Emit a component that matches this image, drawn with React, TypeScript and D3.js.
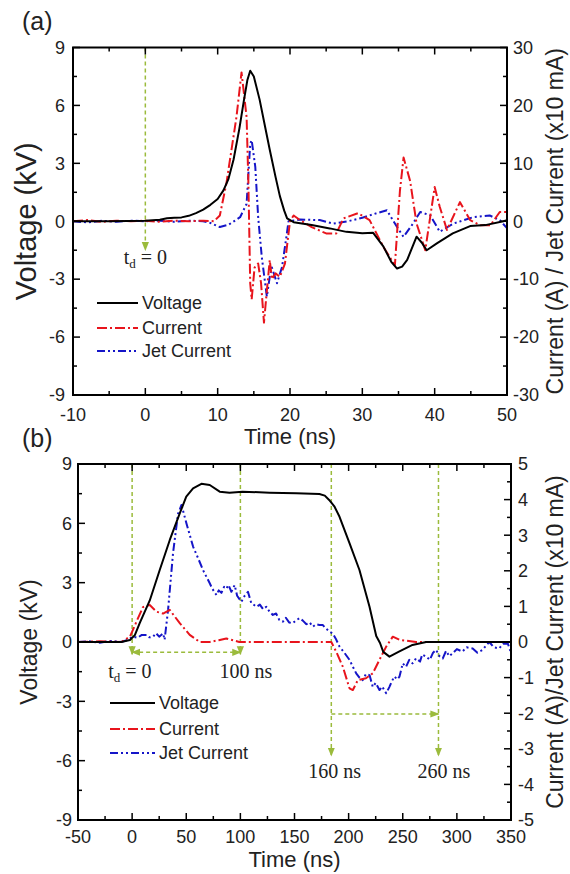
import React from "react";
import * as d3 from "d3";

// ---------- DATA ----------
// Panel (a): time (ns) vs value
const voltageA: [number, number][] = [[-10,0],[-5,0],[0,0.02],[2,0.08],[3,0.15],[4,0.18],[5,0.2],[6,0.28],[7,0.42],[8,0.6],[9,0.85],[10,1.15],[10.8,1.6],[11.5,2.2],[12.2,3.2],[13,4.8],[13.6,6.2],[14.1,7.3],[14.5,7.8],[15,7.5],[15.8,6.3],[16.5,5.0],[17.2,3.7],[18,2.3],[18.6,1.3],[19.2,0.55],[19.6,0.15],[20.5,-0.05],[23,-0.2],[25.5,-0.37],[27.8,-0.55],[30,-0.62],[31.5,-0.6],[32.9,-1.3],[34,-2.1],[34.8,-2.45],[35.5,-2.35],[36.2,-2.0],[37.5,-0.8],[38.2,-1.1],[38.9,-1.5],[40.3,-1.15],[42.5,-0.63],[44.9,-0.25],[47,-0.2],[49.5,0],[50,0.05]];
const currentA: [number, number][] = [[-10,0],[-8,0.2],[-6,-0.1],[-4,0.1],[-2,0],[0,0.1],[2,-0.1],[4,0.1],[6,0],[8,0.1],[9.5,0],[10.3,1],[11.2,6.5],[12.6,18],[13.3,25.7],[14,18],[14.25,6.5],[14.5,-10.7],[14.7,-13.5],[15.1,-8],[15.6,-7.3],[16,-10.7],[16.4,-17.5],[16.8,-12],[17.2,-6.7],[17.5,-10],[18,-9],[18.6,-9.6],[19.3,-7.3],[20,0],[20.5,1],[21.4,0.2],[23,-1],[25,-2.1],[26.4,-2.1],[27.4,0.5],[29.4,1.4],[31,0.2],[32.9,-4.4],[34.5,-7.6],[35.2,5.3],[35.7,11],[36.6,7],[37.5,-0.4],[38.7,-5],[40,5.9],[40.7,2.5],[41.7,-1.5],[43.5,3.3],[44.9,0.2],[46.3,-0.7],[47.7,-0.7],[49,1.6],[50,1.6]];
const jetA: [number, number][] = [[-10,0],[-8,-0.2],[-6,0.1],[-4,-0.1],[-2,0.1],[0,0],[2,0.1],[4,-0.1],[6,0.1],[8,0],[9,-0.3],[10.3,-1],[11.5,-0.6],[12.5,0.2],[13.1,0.7],[14,3],[14.5,13.4],[14.7,14],[15.2,9.4],[15.6,0.7],[16.1,-6.2],[16.8,-13],[17.2,-9.6],[17.5,-8],[18.2,-10.7],[18.9,-7.9],[19.5,-2.7],[19.8,0],[21.4,0.3],[24.1,0.2],[26,-0.4],[28,0],[30,0.6],[32,1.4],[33.4,1.9],[34.8,-1],[35.7,-2.7],[37,-0.4],[38,1.6],[39.4,1],[40.7,-1.8],[42.6,-0.4],[45.3,0.7],[47.6,1],[49,0.2],[50,-1.2]];

// Panel (b)
const voltageB: [number, number][] = [[-50,0],[-30,0],[-10,0],[-2,0.1],[2.5,0.35],[7,0.95],[16.3,2.1],[25.5,3.64],[34.8,5.16],[44,6.5],[50,7.35],[56.3,7.77],[64,8.0],[71.7,7.94],[80.9,7.6],[90,7.55],[102,7.6],[127,7.55],[151.6,7.52],[173,7.48],[178,7.4],[182,7.18],[187,6.84],[191.6,6.33],[200.8,5],[210,3.64],[219.3,1.78],[225.5,0.3],[229,-0.05],[232,-0.5],[237.7,-0.74],[246.5,-0.49],[259,-0.15],[271.6,0],[300,0],[350,0]];
const currentB: [number, number][] = [[-50,0],[-30,0.02],[-10,0],[-2,0.15],[4,0.57],[10,0.98],[16.3,1.04],[22.5,0.85],[28.6,0.8],[34.8,0.9],[44,0.53],[53.2,0.2],[62.5,0],[71.7,0],[80,0.05],[87,0.1],[99,0],[130,0],[160,0],[184,0],[188.5,-0.27],[194.6,-0.69],[200.8,-1.3],[203.9,-1.35],[208.5,-1.07],[216,-1.02],[222.3,-0.88],[228.5,-0.5],[234.7,-0.13],[240.8,0.15],[247,0.06],[262.3,0],[300,0],[350,0]];
const jetB: [number, number][] = [[-50,0],[-40,0.02],[-30,-0.02],[-20,0.03],[-10,0],[-5,0.05],[1,0.15],[5,0.12],[9,0.2],[13.3,0.2],[16,0.13],[19.4,0.15],[22,0.25],[25,0.15],[28.6,0.24],[30,0.06],[33.2,0.9],[37.8,2.5],[42.4,3.6],[45.6,3.85],[50.2,3.33],[56.3,2.68],[61,2.35],[65.5,2.02],[71.7,1.65],[74,1.5],[77.9,1.32],[80,1.45],[82.5,1.38],[85,1.55],[87,1.5],[89,1.6],[91.7,1.41],[94.7,1.6],[97,1.3],[100.9,1.13],[104,1.3],[107,1.41],[110,1.1],[114.8,0.99],[118,1.05],[121,0.92],[124,0.99],[127,0.85],[130,0.76],[133,0.8],[136,0.62],[139.3,0.57],[142,0.68],[145,0.55],[148.5,0.53],[151,0.6],[154.7,0.67],[157.7,0.6],[161,0.5],[164,0.55],[167,0.43],[170,0.5],[173,0.48],[176,0.48],[179,0.38],[182.4,0.29],[185.4,0.24],[188,0.1],[191.6,-0.13],[196,-0.3],[200.8,-0.5],[204,-0.7],[207,-0.88],[210,-1.0],[213,-1.07],[216,-0.9],[219.3,-0.93],[222.3,-1.26],[225,-1.15],[228.5,-1.35],[231,-1.25],[234.7,-1.44],[237.7,-1.26],[240,-1.1],[242.3,-0.97],[245,-1.05],[247,-0.97],[250,-0.6],[253,-0.7],[256,-0.5],[259,-0.6],[262.3,-0.46],[266,-0.55],[268,-0.35],[271.6,-0.41],[275,-0.5],[278,-0.3],[280.8,-0.22],[284,-0.4],[287,-0.46],[290,-0.25],[293,-0.4],[296,-0.32],[300,-0.2],[305,-0.27],[309,-0.15],[314.6,-0.18],[319,-0.3],[323.8,-0.22],[327,-0.1],[330,0],[334,-0.15],[339,-0.18],[343,-0.05],[347,-0.04],[350,-0.3]];

const seriesNames = ["Voltage", "Current", "Jet Current"];
const xTicksA = [-10, 0, 10, 20, 30, 40, 50];
const xTicksB = [-50, 0, 50, 100, 150, 200, 250, 300, 350];
const yLeftTicks = [-9, -6, -3, 0, 3, 6, 9];
const yRightTicksA = [-30, -20, -10, 0, 10, 20, 30];
const yRightTicksB = [-5, -4, -3, -2, -1, 0, 1, 2, 3, 4, 5];

// annotation positions in data units (time ns, voltage kV)
const annotA = { vlines: [{ t: 0, from: 9, to: -1.5 }], labels: [{ t: 0, v: -2.2, text: "td" }] };
const annotB = {
  vlines: [{ t: 0, from: 9, to: -0.62 }, { t: 100, from: 9, to: -0.62 }, { t: 184, from: 9, to: -5.75 }, { t: 283, from: 9, to: -5.75 }],
  hlines: [{ t1: 0, t2: 100, v: -0.52, both: true }, { t1: 184, t2: 283, v: -3.64, both: false }],
  labels: [{ t: -2, v: -1.8, text: "td" }, { t: 105, v: -1.8, text: "100 ns" }, { t: 187, v: -6.9, text: "160 ns" }, { t: 288, v: -6.9, text: "260 ns" }],
};

const FONT = "Arial, 'Liberation Sans', Helvetica, sans-serif";
const SERIF = "'Times New Roman', 'Liberation Serif', serif";
const GREEN = "#9bbb3c";
const RED = "#e8141c";
const BLUE = "#1515c8";

type P = {
  id: string;
  label: string;
  labelY: number;
  xDomain: [number, number];
  xRange: [number, number];
  yRange: [number, number];
  rightDomain: [number, number];
  xTicks: number[];
  xMinorStep: number;
  rightTicks: number[];
  rightMinorStep: number;
  volt: [number, number][];
  cur: [number, number][];
  jet: [number, number][];
  yTitleSize: number;
  yTitleX: number;
  rightTitle: string;
  leftLabelGap: number;
  rightLabelGap: number;
  xLabelY: number;
  xTitleY: number;
  legend: { x1: number; x2: number; ys: number[] };
  annot: any;
};

function Panel({ p }: { p: P }) {
  const x = d3.scaleLinear().domain(p.xDomain).range(p.xRange);
  const y = d3.scaleLinear().domain([-9, 9]).range(p.yRange);
  const yr = d3.scaleLinear().domain(p.rightDomain).range(p.yRange);
  const [x0, x1] = p.xRange;
  const [yb, yt] = p.yRange;
  const lineV = d3.line<[number, number]>().x((d) => x(d[0])).y((d) => y(d[1]));
  const lineR = d3.line<[number, number]>().x((d) => x(d[0])).y((d) => yr(d[1]));
  const maj = 7, mnr = 4;
  const xMinor = d3.range(p.xDomain[0], p.xDomain[1] + 0.001, p.xMinorStep);
  const yMinor = d3.range(-9, 9.001, 1.5);
  const rMinor = d3.range(p.rightDomain[0], p.rightDomain[1] + 0.001, p.rightMinorStep);
  const tickFont = 18;
  const clipId = "clip" + p.id;
  const markerId = "arr" + p.id;
  const renderLabel = (l: any, i: number) => {
    if (l.text === "td") {
      return (
        <text key={i} x={x(l.t)} y={y(l.v)} fontFamily={SERIF} fontSize={20} textAnchor="middle" fill="#222">
          t<tspan fontSize={13} dy={4}>d</tspan><tspan dy={-4}> = 0</tspan>
        </text>
      );
    }
    return (
      <text key={i} x={x(l.t)} y={y(l.v)} fontFamily={SERIF} fontSize={20} textAnchor="middle" fill="#222">{l.text}</text>
    );
  };
  return (
    <g>
      <defs>
        <clipPath id={clipId}>
          <rect x={x0} y={yt} width={x1 - x0} height={yb - yt} />
        </clipPath>
        <marker id={markerId} viewBox="0 0 10 10" refX="9" refY="5" markerWidth="6" markerHeight="6" orient="auto-start-reverse">
          <path d="M0,1 L10,5 L0,9 z" fill={GREEN} />
        </marker>
      </defs>
      {/* annotations */}
      <g stroke={GREEN} strokeWidth={1.5} strokeDasharray="4,3" fill="none">
        {p.annot.vlines.map((v: any, i: number) => (
          <line key={i} x1={x(v.t)} x2={x(v.t)} y1={y(v.from)} y2={y(v.to)} markerEnd={`url(#${markerId})`} />
        ))}
        {(p.annot.hlines || []).map((h: any, i: number) => (
          <line key={"h" + i} x1={x(h.t1)} x2={x(h.t2)} y1={y(h.v)} y2={y(h.v)} markerEnd={`url(#${markerId})`} markerStart={h.both ? `url(#${markerId})` : undefined} />
        ))}
      </g>
      {p.annot.labels.map(renderLabel)}
      {/* series */}
      <g clipPath={`url(#${clipId})`} fill="none" strokeLinejoin="round">
        <path d={lineR(p.jet) || ""} stroke={BLUE} strokeWidth={2} strokeDasharray="8,3,2,3,2,3" />
        <path d={lineR(p.cur) || ""} stroke={RED} strokeWidth={2} strokeDasharray="10,3,2,3" />
        <path d={lineV(p.volt) || ""} stroke="#000" strokeWidth={2} />
      </g>
      {/* frame */}
      <rect x={x0} y={yt} width={x1 - x0} height={yb - yt} fill="none" stroke="#000" strokeWidth={2} />
      {/* x ticks */}
      <g stroke="#000" strokeWidth={1.5}>
        {xMinor.map((t, i) => {
          const isMaj = p.xTicks.some((m) => Math.abs(m - t) < 1e-6);
          const len = isMaj ? maj : mnr;
          return (
            <g key={i}>
              <line x1={x(t)} x2={x(t)} y1={yb} y2={yb - len} />
              <line x1={x(t)} x2={x(t)} y1={yt} y2={yt + len} />
            </g>
          );
        })}
        {yMinor.map((v, i) => {
          const isMaj = yLeftTicks.some((m) => Math.abs(m - v) < 1e-6);
          return <line key={"l" + i} x1={x0} x2={x0 + (isMaj ? maj : mnr)} y1={y(v)} y2={y(v)} />;
        })}
        {rMinor.map((v, i) => {
          const isMaj = p.rightTicks.some((m) => Math.abs(m - v) < 1e-6);
          return <line key={"r" + i} x1={x1} x2={x1 - (isMaj ? maj : mnr)} y1={yr(v)} y2={yr(v)} />;
        })}
      </g>
      <g fontFamily={FONT} fontSize={tickFont} fill="#222">
        {p.xTicks.map((t) => (
          <text key={"xt" + t} x={x(t)} y={p.xLabelY} textAnchor="middle">{t}</text>
        ))}
        {yLeftTicks.map((v) => (
          <text key={"yt" + v} x={x0 - p.leftLabelGap} y={y(v)} dy="0.35em" textAnchor="end">{v}</text>
        ))}
        {p.rightTicks.map((v) => (
          <text key={"rt" + v} x={x1 + p.rightLabelGap} y={yr(v)} dy="0.35em" textAnchor="start">{v}</text>
        ))}
      </g>
      {/* titles */}
      <text x={(x0 + x1) / 2} y={p.xTitleY} fontFamily={FONT} fontSize={22} textAnchor="middle" fill="#222">Time (ns)</text>
      <text transform={`translate(${p.yTitleX},${(yt + yb) / 2}) rotate(-90)`} fontFamily={FONT} fontSize={p.yTitleSize} textAnchor="middle" fill="#222">Voltage (kV)</text>
      <text transform={`translate(563,${(yt + yb) / 2}) rotate(-90)`} fontFamily={FONT} fontSize={23} textAnchor="middle" fill="#222">{p.rightTitle}</text>
      <text x={22} y={p.labelY} fontFamily={FONT} fontSize={25} fill="#222">{p.label}</text>
      {/* legend */}
      <g fontFamily={FONT} fontSize={18} fill="#222">
        {seriesNames.map((n, i) => (
          <g key={n}>
            <line x1={p.legend.x1} x2={p.legend.x2} y1={p.legend.ys[i]} y2={p.legend.ys[i]} stroke={[("#000"), RED, BLUE][i]} strokeWidth={2} strokeDasharray={["none", "10,3,2,3", "8,3,2,3,2,3"][i]} />
            <text x={p.legend.x2 + 4} y={p.legend.ys[i]} dy="0.35em">{n}</text>
          </g>
        ))}
      </g>
    </g>
  );
}

const panelA: P = {
  id: "a", label: "(a)", labelY: 30,
  xDomain: [-10, 50], xRange: [73, 507], yRange: [395, 47.5], rightDomain: [-30, 30],
  xTicks: xTicksA, xMinorStep: 5, rightTicks: yRightTicksA, rightMinorStep: 5,
  volt: voltageA, cur: currentA, jet: jetA,
  yTitleSize: 29, yTitleX: 36, rightTitle: "Current (A) / Jet Current (x10 mA)",
  leftLabelGap: 8, rightLabelGap: 6, xLabelY: 421, xTitleY: 444,
  legend: { x1: 97, x2: 138, ys: [303, 328, 351] }, annot: annotA,
};
const panelB: P = {
  id: "b", label: "(b)", labelY: 447,
  xDomain: [-50, 350], xRange: [78, 511], yRange: [820, 464], rightDomain: [-5, 5],
  xTicks: xTicksB, xMinorStep: 25, rightTicks: yRightTicksB, rightMinorStep: 0.5,
  volt: voltageB, cur: currentB, jet: jetB,
  yTitleSize: 23, yTitleX: 37, rightTitle: "Current (A)/Jet Current (x10 mA)",
  leftLabelGap: 6, rightLabelGap: 7, xLabelY: 843, xTitleY: 867,
  legend: { x1: 110, x2: 155, ys: [703, 729, 753] }, annot: annotB,
};

export default function App() {
  return (
    <svg width={570} height={874} style={{ position: "absolute", left: 0, top: 0, background: "#fff" }}>
      <rect width={570} height={874} fill="#fff" />
      <Panel p={panelA} />
      <Panel p={panelB} />
    </svg>
  );
}
